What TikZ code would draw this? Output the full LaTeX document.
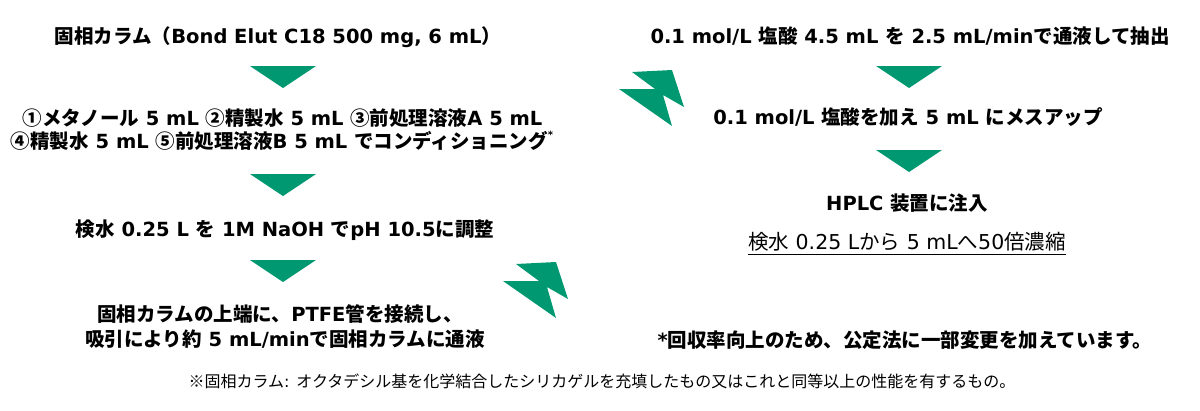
\documentclass[tikz,border=0pt]{standalone}
\usepackage{fontspec}
\setmainfont{Noto Sans CJK JP}
\newfontfamily\latinfont{DejaVu Sans}
\newcommand\en[1]{{\latinfont #1}}
\definecolor{brand}{RGB}{0,152,112}
\begin{document}
\begin{tikzpicture}[x=1pt,y=-1pt,
  every node/.style={inner sep=0pt,outer sep=0pt},
  txt/.style={anchor=base,font=\fontsize{19.5}{21}\selectfont\bfseries},
  txtreg/.style={anchor=base,font=\fontsize{20.5}{22}\selectfont},
  small/.style={anchor=base,font=\fontsize{16}{18}\selectfont},
  downtri/.pic={\fill[brand] (-33,0) -- (33,0) -- (0,22) -- cycle;},
  bolt/.pic={\fill[brand] (0,0) -- (40,-2) -- (52,35) -- (31,23) -- (40,54) -- (-13,17) -- (23,17) -- cycle;}]
\useasboundingbox (0,0) rectangle (1200,410);
% left column
\node[txt] (t1) at (278,43.4) {固相カラム（\en{Bond Elut C18 500 mg, 6 mL}）};
\pic at (283,66) {downtri};
\node[txt] (c1) at (282.5,125.4) {①メタノール\en{ 5 mL }②精製水\en{ 5 mL }③前処理溶液\en{A 5 mL}};
\node[txt] (c2) at (282,148.6) {④精製水\en{ 5 mL }⑤前処理溶液\en{B 5 mL }でコンディショニング\raisebox{0.5em}{\fontsize{10}{10}\selectfont\en{*}}};
\pic at (283,174) {downtri};
\node[txt] (n1) at (285,236.4) {検水\en{ 0.25 L }を\en{ 1M NaOH }で\en{pH 10.5}に調整};
\pic at (283,260) {downtri};
\node[txt] (p1) at (280,321.4) {固相カラムの上端に、\en{PTFE}管を接続し、};
\node[txt] (p2) at (285,346.4) {吸引により約\en{ 5 mL/min}で固相カラムに通液};
\pic at (516,264) {bolt};
\pic at (632,72) {bolt};
% right column
\node[txt] (r1) at (910,43.4) {\en{0.1 mol/L }塩酸\en{ 4.5 mL }を\en{ 2.5 mL/min}で通液して抽出};
\pic at (909,66) {downtri};
\node[txt] (r2) at (908,124.4) {\en{0.1 mol/L }塩酸を加え\en{ 5 mL }にメスアップ};
\pic at (909,150) {downtri};
\node[txt] (r3) at (907,210.4) {\en{HPLC }装置に注入};
\node[txtreg] (r4) at (907,249.6) {検水\en{ 0.25 L}から\en{ 5 mL}へ\en{50}倍濃縮};
\draw[line width=1.3pt] ([yshift=-3.5pt]r4.south west) -- ([yshift=-3.5pt]r4.south east);
\node[txt] (note) at (905,347.4) {\en{*}回収率向上のため、公定法に一部変更を加えています。};
\node[small] (fn) at (602,387) {※固相カラム\en{: }オクタデシル基を化学結合したシリカゲルを充填したもの又はこれと同等以上の性能を有するもの。};
\end{tikzpicture}
\end{document}
